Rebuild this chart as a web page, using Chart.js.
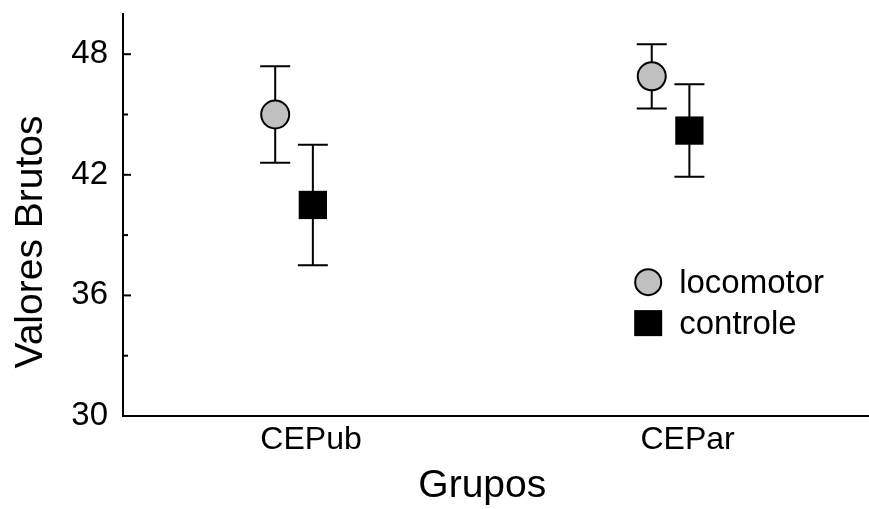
<!DOCTYPE html>
<html>
<head>
<meta charset="utf-8">
<script src="https://cdn.jsdelivr.net/npm/chart.js@4.4.0/dist/chart.umd.min.js"></script>
<style>
  html, body { margin: 0; padding: 0; background: #fff; }
  #wrap { width: 869px; height: 509px; }
</style>
</head>
<body>
<div id="wrap"><canvas id="chart"></canvas></div>
<script>
"use strict"

// data
const groups = ['CEPub', 'CEPar'];
const locomotorMean = [45.0, 46.9];
const locomotorErr = [2.4, 1.6];
const controleMean = [40.5, 44.2];
const controleErr = [3.0, 2.3];
const yTickValues = [30, 33, 36, 39, 42, 45, 48];
const yTickLabels = ['30', '', '36', '', '42', '', '48'];

const FONT = "'Liberation Sans', Arial, sans-serif";
const DODGE = 0.05;

// build scatter points, groups sit at x = 1, 2
const toPoints = (means, errs, shift) =>
    means.map((m, i) => ({ x: i + 1 + shift, y: m, err: errs[i] }));

// error bars under the markers
const errorBars = {
    id: 'errorBars',
    beforeDatasetsDraw(chart) {
        const { ctx, scales: { x, y } } = chart;
        ctx.save();
        ctx.strokeStyle = '#000';
        ctx.lineWidth = 2;
        chart.data.datasets.forEach(ds => {
            ds.data.forEach(p => {
                const px = x.getPixelForValue(p.x);
                const top = y.getPixelForValue(p.y + p.err);
                const bot = y.getPixelForValue(p.y - p.err);
                ctx.beginPath();
                ctx.moveTo(px, top); ctx.lineTo(px, bot);
                ctx.moveTo(px - 15, top); ctx.lineTo(px + 15, top);
                ctx.moveTo(px - 15, bot); ctx.lineTo(px + 15, bot);
                ctx.stroke();
            });
        });
        ctx.restore();
    }
};

// inward tick marks, axis titles and the legend inside the plot
const decorations = {
    id: 'decorations',
    afterDraw(chart) {
        const { ctx, chartArea, scales: { x, y } } = chart;
        ctx.save();
        ctx.strokeStyle = '#000';
        ctx.lineWidth = 2;
        y.ticks.forEach((t, i) => {
            const py = y.getPixelForValue(t.value);
            const len = yTickLabels[i] ? 8 : 5;
            ctx.beginPath();
            ctx.moveTo(chartArea.left, py);
            ctx.lineTo(chartArea.left + len, py);
            ctx.stroke();
        });

        ctx.fillStyle = '#000';
        ctx.font = `39px ${FONT}`;
        ctx.textAlign = 'center';
        ctx.textBaseline = 'alphabetic';
        ctx.fillText('Grupos', x.getPixelForValue(1.5), chart.height - 12);

        ctx.save();
        ctx.translate(42, (chartArea.top + chartArea.bottom) / 2 + 27);
        ctx.rotate(-Math.PI / 2);
        ctx.fillText('Valores Brutos', 0, 0);
        ctx.restore();

        // legend
        const lx = chartArea.left + (chartArea.right - chartArea.left) * 0.704;
        const ly = chartArea.top + (chartArea.bottom - chartArea.top) * 0.667;
        ctx.font = `33px ${FONT}`;
        ctx.textAlign = 'left';
        chart.data.datasets.forEach((ds, i) => {
            const cy = ly + i * 41;
            ctx.fillStyle = ds.backgroundColor;
            ctx.strokeStyle = ds.borderColor;
            ctx.lineWidth = 2;
            if (ds.pointStyle === 'circle') {
                ctx.beginPath();
                ctx.arc(lx, cy, 13, 0, Math.PI * 2);
                ctx.fill();
                ctx.stroke();
            } else {
                ctx.fillRect(lx - 14, cy - 13, 28, 26);
            }
            ctx.fillStyle = '#000';
            ctx.fillText(ds.label, lx + 31, cy + 11);
        });
        ctx.restore();
    }
};

new Chart(document.getElementById('chart'), {
    type: 'scatter',
    data: {
        datasets: [{
            label: 'locomotor',
            data: toPoints(locomotorMean, locomotorErr, -DODGE),
            pointStyle: 'circle',
            pointRadius: 14,
            pointHoverRadius: 14,
            backgroundColor: '#c0c0c0',
            borderColor: '#000',
            borderWidth: 2
        }, {
            label: 'controle',
            data: toPoints(controleMean, controleErr, DODGE),
            pointStyle: 'rect',
            pointRadius: 20,
            pointHoverRadius: 20,
            backgroundColor: '#000',
            borderColor: '#000',
            borderWidth: 0
        }]
    },
    options: {
        responsive: true,
        maintainAspectRatio: false,
        animation: false,
        layout: { autoPadding: false, padding: { top: 14, right: 0, bottom: 0, left: 0 } },
        plugins: {
            legend: { display: false },
            tooltip: { enabled: false }
        },
        scales: {
            x: {
                type: 'linear',
                min: 0.5458,
                max: 2.527,
                afterBuildTicks: s => { s.ticks = groups.map((g, i) => ({ value: i + 1 })); },
                afterFit: s => { s.height = 93; s.paddingLeft = 0; s.paddingRight = 0; },
                grid: { display: false, drawTicks: false },
                border: { display: true, color: '#000', width: 2 },
                ticks: {
                    padding: 5,
                    labelOffset: 17,
                    color: '#000',
                    font: { family: FONT, size: 32 },
                    autoSkip: false,
                    maxRotation: 0,
                    callback: v => groups[Math.round(v) - 1] ?? ''
                }
            },
            y: {
                min: 30,
                max: 50,
                afterBuildTicks: s => { s.ticks = yTickValues.map(v => ({ value: v })); },
                afterFit: s => { s.width = 123; s.paddingTop = 0; s.paddingBottom = 0; },
                grid: { display: false, drawTicks: false },
                border: { display: true, color: '#000', width: 2 },
                ticks: {
                    padding: 15,
                    color: '#000',
                    font: { family: FONT, size: 33 },
                    autoSkip: false,
                    callback: v => yTickLabels[yTickValues.indexOf(v)] ?? ''
                }
            }
        }
    },
    plugins: [errorBars, decorations]
});
</script>
</body>
</html>
